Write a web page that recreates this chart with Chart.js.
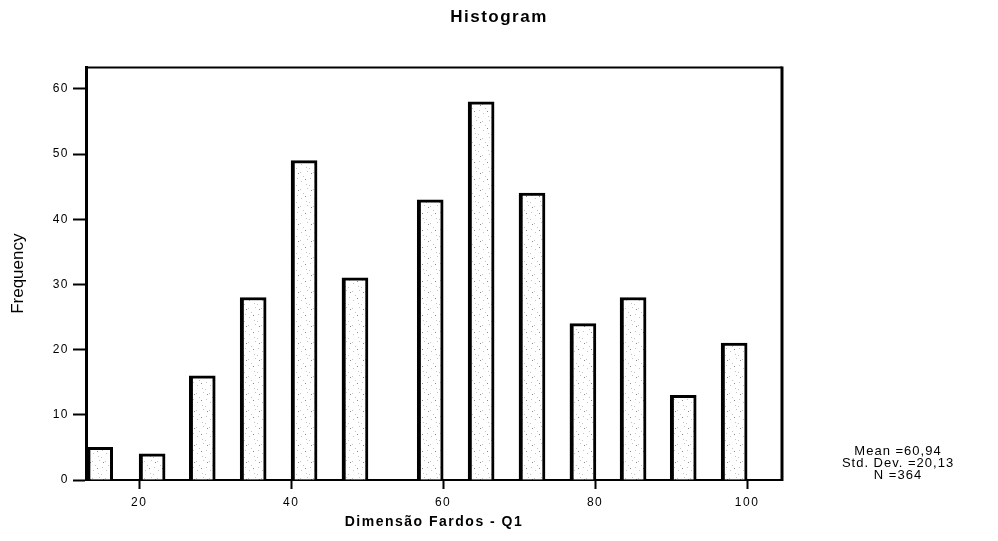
<!DOCTYPE html>
<html>
<head>
<meta charset="utf-8">
<title>Histogram</title>
<script src="https://cdn.jsdelivr.net/npm/chart.js@4.4.1/dist/chart.umd.min.js"></script>
<style>
    html, body { margin: 0; padding: 0; background: #fff; }
    #wrap { width: 998px; height: 541px; }
</style>
</head>
<body>
<div id="wrap"><canvas id="hist" width="998" height="541"></canvas></div>
<script>
// Histograma de Dimensão Fardos - Q1 (barras estreitas, estilo SPSS)
const binCenters = [14.8, 21.7, 28.3, 35.0, 41.7, 48.4, 58.3, 65.0, 71.7, 78.4, 85.0, 91.6, 98.3];
const frequencies = [5, 4, 16, 28, 49, 31, 43, 58, 44, 24, 28, 13, 21];
const xTicks = [20, 40, 60, 80, 100];
const yTicks = [0, 10, 20, 30, 40, 50, 60];
const statLines = ["Mean =60,94", "Std. Dev. =20,13", "N =364"];

const FONT = "'Liberation Sans', Arial, Helvetica, sans-serif";

// Pontilhado cinzento claro dentro das barras
function stipple() {
    const c = document.createElement("canvas");
    c.width = 13;
    c.height = 17;
    const g = c.getContext("2d");
    g.fillStyle = "#fff";
    g.fillRect(0, 0, c.width, c.height);
    g.fillStyle = "#c4c4c4";
    [[1, 2], [8, 1], [4, 6], [11, 8], [2, 11], [7, 14], [10, 15]].forEach(([x, y]) => g.fillRect(x, y, 1, 1));
    g.fillStyle = "#8a8a8a";
    [[6, 9], [12, 3]].forEach(([x, y]) => g.fillRect(x, y, 1, 1));
    return g.createPattern(c, "repeat");
}

// Espaçamento das letras: largo nos textos, normal no título do eixo Y
// (a camada "grid" do eixo Y, que desenha o título, vem depois das barras)
const spacingPlugin = {
    id: "spacing",
    beforeDraw(chart) {
        chart.ctx.letterSpacing = "1.5px";
    },
    afterDatasetsDraw(chart) {
        chart.ctx.letterSpacing = "0px";
    },
};

// Moldura (topo e direita) + estatísticas ao lado
const framePlugin = {
    id: "frame",
    afterDraw(chart) {
        const {ctx, chartArea: a} = chart;
        ctx.save();
        ctx.strokeStyle = "#000";
        ctx.lineWidth = 2;
        ctx.beginPath();
        ctx.moveTo(a.left, a.top);
        ctx.lineTo(a.right, a.top);
        ctx.stroke();
        ctx.lineWidth = 3;
        ctx.beginPath();
        ctx.moveTo(a.right, a.top - 1);
        ctx.lineTo(a.right, a.bottom + 1);
        ctx.stroke();

        ctx.fillStyle = "#000";
        ctx.font = "13px " + FONT;
        ctx.letterSpacing = "1px";
        ctx.textAlign = "center";
        ctx.textBaseline = "middle";
        statLines.forEach((t, i) => ctx.fillText(t, 898, 451 + i * 12));
        ctx.restore();
    },
};

new Chart(document.getElementById("hist"), {
    type: "bar",
    data: {
        datasets: [{
            data: binCenters.map((x, i) => ({x: x, y: frequencies[i]})),
            backgroundColor: stipple(),
            borderColor: "#000",
            borderWidth: {left: 4, right: 3, top: 3, bottom: 0},
            borderSkipped: false,
            barThickness: 26,
        }],
    },
    options: {
        responsive: false,
        animation: false,
        events: [],
        layout: { padding: 0 },
        plugins: {
            legend: { display: false },
            tooltip: { enabled: false },
            title: {
                display: true,
                text: "Histogram",
                color: "#000",
                font: { family: FONT, size: 17, weight: "bold" },
                padding: { top: 7, bottom: 40 },
            },
        },
        scales: {
            x: {
                type: "linear",
                min: 13,
                max: 104.6,
                offset: false,
                afterFit(scale) { scale.height = 61; },
                afterBuildTicks(scale) { scale.ticks = xTicks.map((v) => ({value: v})); },
                grid: {
                    drawOnChartArea: false,
                    drawTicks: true,
                    tickLength: 9,
                    tickWidth: 2,
                    color: "#000",
                    offset: false,
                },
                border: { display: true, color: "#000", width: 2 },
                ticks: {
                    color: "#000",
                    padding: 6,
                    font: { family: FONT, size: 12 },
                    maxRotation: 0,
                },
                title: {
                    display: true,
                    text: "Dimensão Fardos - Q1",
                    color: "#000",
                    font: { family: FONT, size: 14, weight: "bold" },
                    padding: { top: 0, bottom: 10 },
                },
            },
            y: {
                min: 0,
                max: 63.3,
                afterFit(scale) { scale.width = 86; },
                afterBuildTicks(scale) { scale.ticks = yTicks.map((v) => ({value: v})); },
                grid: {
                    drawOnChartArea: false,
                    drawTicks: true,
                    tickLength: 13,
                    tickWidth: 2,
                    color: "#000",
                    z: 1,
                },
                border: { display: true, color: "#000", width: 3, z: 1 },
                ticks: {
                    color: "#000",
                    padding: 4,
                    font: { family: FONT, size: 12 },
                },
                title: {
                    display: true,
                    text: "Frequency",
                    color: "#000",
                    font: { family: FONT, size: 17 },
                    padding: { top: 8, bottom: 0 },
                },
            },
            // coluna vazia à direita, reservada para as estatísticas
            side: {
                type: "linear",
                position: "right",
                afterFit(scale) { scale.width = 216; },
                grid: { display: false },
                ticks: { display: false },
                border: { display: false },
            },
        },
    },
    plugins: [spacingPlugin, framePlugin],
});
</script>
</body>
</html>
